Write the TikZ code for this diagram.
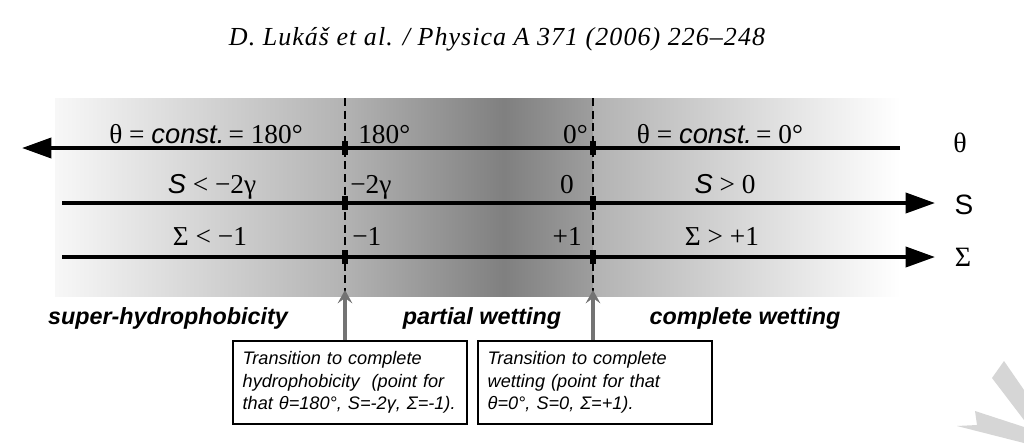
\documentclass[tikz,border=0pt]{standalone}
\usepackage{fontspec}
\setmainfont{Liberation Serif}
\setsansfont{Liberation Sans}
\usetikzlibrary{arrows.meta}
\definecolor{gA}{gray}{0.97}
\definecolor{gB}{gray}{0.70}
\definecolor{gC}{gray}{0.50}
\definecolor{gD}{gray}{0.62}
\definecolor{gE}{gray}{0.70}
\definecolor{arrgray}{gray}{0.45}
\definecolor{wmark}{gray}{0.84}
\tikzset{
  lbl/.style={font=\fontsize{20.5pt}{24pt}\selectfont, anchor=base, inner sep=0pt},
  axlbl/.style={font=\fontsize{21pt}{24pt}\selectfont, inner sep=0pt},
  region/.style={font=\fontsize{17.5pt}{20pt}\selectfont\sffamily\bfseries\itshape, anchor=base, inner sep=0pt},
  axisline/.style={line width=2.8pt},
  bigtip/.style={-{Triangle[length=22pt,width=15pt]}},
  divider/.style={line width=1.2pt, dash pattern=on 6pt off 3.5pt},
  tick/.style={fill=black, minimum width=3.8pt, minimum height=9.8pt, inner sep=0pt},
  infobox/.style={draw=black, line width=1.6pt, fill=white, minimum width=175.5pt, minimum height=62pt,
     text width=161pt, align=left, inner xsep=7.25pt,
     font=\fontsize{13.6pt}{16.8pt}\selectfont\sffamily\itshape},
  uparrow/.style={draw=arrgray, line width=2.8pt, -{Stealth[length=10pt,width=11pt,inset=4pt]}}
}
\begin{document}
\begin{tikzpicture}[x=0.75pt,y=-0.75pt]
\useasboundingbox (0,0) rectangle (1024,443);
\fill[white] (0,0) rectangle (1024,443);
% header
\node[font=\fontsize{19.5pt}{22pt}\selectfont\itshape\addfontfeature{LetterSpace=4}, anchor=base, inner sep=0pt] (hdr) at (497,45) {D. Lukáš et al. / Physica A 371 (2006) 226–248};
% gradient band
\shade[left color=gA, right color=gB] (55,98) rectangle (346,296);
\shade[left color=gB, right color=gC] (345,98) rectangle (505,296);
\shade[left color=gC, right color=gD] (504,98) rectangle (594,296);
\shade[left color=gE, right color=white] (593,98) rectangle (900,296);
% divider coordinates
\coordinate (d1top) at (345,98);
\coordinate (d1bot) at (345,296);
\coordinate (d2top) at (593,98);
\coordinate (d2bot) at (593,296);
\draw[divider] (d1top) -- (d1bot);
\draw[divider] (d2top) -- (d2bot);
% axes
\coordinate (thL) at (22,148);
\coordinate (thR) at (900,148);
\coordinate (sL) at (62,203);
\coordinate (sR) at (935,203);
\coordinate (gL) at (62,257);
\coordinate (gR) at (935,257);
\draw[axisline, bigtip] (thR) -- (thL);
\draw[axisline, bigtip] (sL) -- (sR);
\draw[axisline, bigtip] (gL) -- (gR);
% ticks
\foreach \d in {d1top,d2top}{
  \foreach \a in {thL,sL,gL}{
    \node[tick] at (\d |- \a) {};
  }
}
% axis labels
\node[axlbl] (lth) at (960,143) {θ};
\node[axlbl, font=\fontsize{21pt}{24pt}\selectfont\sffamily] (lS) at (964,205) {S};
\node[axlbl] (lSig) at (963,257) {Σ};
% row 1
\node[lbl] (r1a) at (206,143) {θ = {\sffamily\itshape const.}\kern-2pt\ = 180°};
\node[lbl, anchor=base west] (r1b) at (358,143) {180°};
\node[lbl, anchor=base east] (r1c) at (588,143) {0°};
\node[lbl] (r1d) at (720,143) {θ = {\sffamily\itshape const.}\kern-2pt\ = 0°};
% row 2
\node[lbl] (r2a) at (212,193) {{\sffamily\itshape S} < −2γ};
\node[lbl, anchor=base west] (r2b) at (350,193) {−2γ};
\node[lbl] (r2c) at (567,193) {0};
\node[lbl] (r2d) at (725,193) {{\sffamily\itshape S} > 0};
% row 3
\node[lbl] (r3a) at (210,245) {Σ < −1};
\node[lbl, anchor=base west] (r3b) at (352,245) {−1};
\node[lbl, anchor=base east] (r3c) at (582,245) {+1};
\node[lbl] (r3d) at (722,245) {Σ > +1};
% regions
\node[region] (reg1) at (168,324) {super-hydrophobicity};
\node[region] (reg2) at (482,324) {partial wetting};
\node[region] (reg3) at (745,324) {complete wetting};
% boxes
\node[infobox] (b1) at (350,382.5) {Transition to complete\\hydrophobicity\ \ (point for\\that θ=180°, S=-2γ, Σ=-1).};
\node[infobox] (b2) at (595,382.5) {Transition to complete\\wetting (point for that\\θ=0°, S=0, Σ=+1).};
\coordinate (t1) at (345,290);
\coordinate (t2) at (593,290);
\draw[uparrow] (b1.north -| t1) -- (t1);
\draw[uparrow] (b2.north -| t2) -- (t2);
% watermark
\fill[wmark] (1004,361) -- (1024,390) -- (1024,420) -- (992,378) -- cycle;
\fill[wmark] (975,411) -- (1024,427) -- (1024,443) -- (957,426) -- (977,425) -- cycle;
\end{tikzpicture}
\end{document}
